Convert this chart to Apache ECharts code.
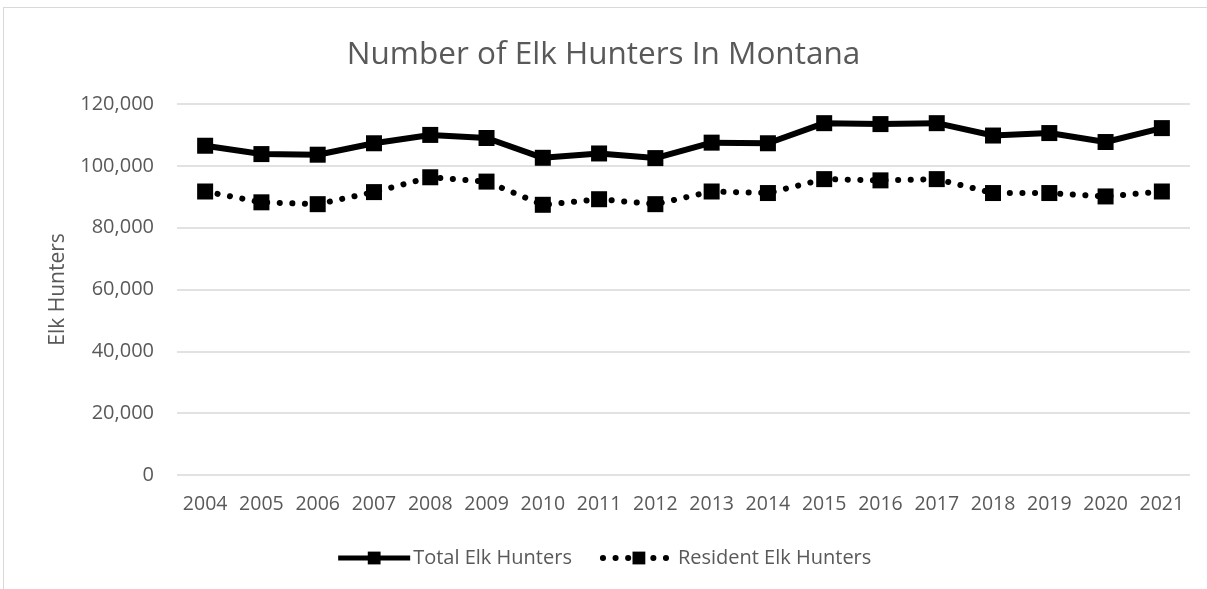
<!DOCTYPE html>
<html>
<head>
<meta charset="utf-8">
<script src="https://cdn.jsdelivr.net/npm/echarts@6/dist/echarts.min.js"></script>
<style>
html,body{margin:0;padding:0;background:#fff;}
#frame{position:absolute;left:3px;top:7px;width:1210px;height:590px;border:1px solid #d9d9d9;box-sizing:border-box;}
#main{position:absolute;left:0;top:0;width:1207px;height:589px;}
</style>
</head>
<body>
<div id="frame"></div>
<div id="main"></div>
<script>
var years = ['2004','2005','2006','2007','2008','2009','2010','2011','2012','2013','2014','2015','2016','2017','2018','2019','2020','2021'];
var totalHunters = [106500,103800,103600,107300,110000,109000,102600,104000,102500,107500,107300,113800,113500,113800,109800,110600,107700,112200];
var residentHunters = [91700,88200,87600,91500,96300,94900,87400,89200,87600,91700,91200,95700,95300,95700,91200,91200,90100,91700];

var font = 'Open Sans';
var dots = [0.1, 12.5];

var option = {
	animation: false,
	title: {
		text: 'Number of Elk Hunters In Montana',
		left: 'center',
		top: 34,
		textStyle: {
			fontFamily: font,
			fontSize: 31.5,
			fontWeight: 'normal',
			color: '#595959'
		}
	},
	legend: {
		bottom: 16,
		left: 'center',
		itemWidth: 72,
		itemHeight: 16,
		itemGap: 28,
		textStyle: {
			fontFamily: font,
			fontSize: 20,
			color: '#595959',
			padding: [0, 0, 0, -2]
		},
		data: [{
				name: 'Total Elk Hunters',
				lineStyle: { width: 5, color: '#000' }
			},
			{
				name: 'Resident Elk Hunters',
				lineStyle: { width: 6, color: '#000', type: dots, cap: 'round' }
			}
		]
	},
	grid: {
		left: 177,
		right: 17,
		top: 104,
		bottom: 114
	},
	xAxis: {
		type: 'category',
		data: years,
		axisLine: { show: false },
		axisTick: { show: false },
		axisLabel: {
			interval: 0,
			fontFamily: font,
			fontSize: 19.5,
			color: '#595959',
			margin: 19
		}
	},
	yAxis: {
		type: 'value',
		min: 0,
		max: 120000,
		interval: 20000,
		name: 'Elk Hunters',
		nameLocation: 'middle',
		nameGap: 108,
		nameTextStyle: {
			fontFamily: font,
			fontSize: 21,
			color: '#595959'
		},
		axisLabel: {
			fontFamily: font,
			fontSize: 20,
			color: '#595959',
			margin: 23,
			formatter: function (v) { return v.toLocaleString('en-US'); }
		},
		splitLine: { lineStyle: { color: '#d9d9d9', width: 1.5 } }
	},
	series: [{
			name: 'Total Elk Hunters',
			type: 'line',
			data: totalHunters,
			symbol: 'rect',
			symbolSize: 16,
			itemStyle: { color: '#000' },
			lineStyle: { color: '#000', width: 6 }
		},
		{
			name: 'Resident Elk Hunters',
			type: 'line',
			data: residentHunters,
			symbol: 'rect',
			symbolSize: 16,
			itemStyle: { color: '#000' },
			lineStyle: { color: '#000', width: 6, type: dots, cap: 'round' }
		}
	]
};

var myChart = echarts.init(document.getElementById('main'));
myChart.setOption(option);
</script>
</body>
</html>
